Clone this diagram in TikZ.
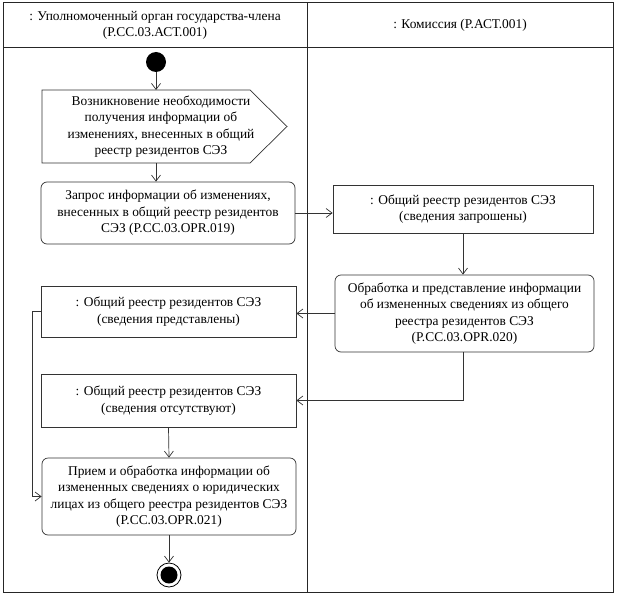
\documentclass[tikz,border=0pt]{standalone}
\usepackage{fontspec}
\setmainfont{Liberation Serif}
\usetikzlibrary{arrows.meta}
\tikzset{
  txt/.style={align=center,font=\fontsize{13.4}{16.5}\selectfont,inner sep=0pt},
  actbox/.style={txt,draw=black!80,line width=0.7pt,rounded corners=6pt},
  objbox/.style={txt,draw=black!80,line width=0.7pt},
  flow/.style={draw=black!80,line width=0.7pt,-{Straight Barb[length=6pt,width=9pt]}},
  startdot/.style={circle,fill=black,minimum size=20pt,inner sep=0pt},
  enddot/.style={circle,draw=black,line width=0.8pt,minimum size=24pt,inner sep=0pt,
    path picture={\fill[black] (path picture bounding box.center) circle (8.5pt);}}
}
\begin{document}
\begin{tikzpicture}[x=1pt,y=-1pt]
\useasboundingbox (0,0) rectangle (617,596);
% swimlanes
\begin{scope}[line width=1pt,black!85]
    \draw (3,3) rectangle (613,592);
    \draw (3,48) -- (613,48);
    \draw (307,3) -- (307,592);
\end{scope}
    \node[txt] (laneA) at (155,25.5) {: Уполномоченный орган государства-члена\\(Р.СС.03.АСТ.001)};
    \node[txt] (laneB) at (460,25.5) {: Комиссия (Р.АСТ.001)};
% left lane
    \node[startdot] (start) at (156,62) {};
    \draw[objbox] (42,90) -- (250,90) -- (287,126.5) -- (250,163) -- (42,163) -- cycle;
    \node[txt] (need) at (161,126.5) {Возникновение необходимости\\получения информации об\\изменениях, внесенных в общий\\реестр резидентов СЭЗ};
    \coordinate (needtop) at (156,90);
    \coordinate (needbot) at (156,163);
    \node[actbox,minimum width=254pt,minimum height=62pt] (req) at (168,213)
        {Запрос информации об изменениях,\\внесенных в общий реестр резидентов\\СЭЗ (Р.СС.03.OPR.019)};
    \node[objbox,minimum width=255pt,minimum height=51pt] (given) at (168.5,311.5)
        {: Общий реестр резидентов СЭЗ\\(сведения представлены)};
    \node[objbox,minimum width=255pt,minimum height=53pt] (none) at (168.5,400.5)
        {: Общий реестр резидентов СЭЗ\\(сведения отсутствуют)};
    \node[actbox,minimum width=254pt,minimum height=77pt] (recv) at (169,496.5)
        {Прием и обработка информации об\\измененных сведениях о юридических\\лицах из общего реестра резидентов СЭЗ\\(Р.СС.03.OPR.021)};
    \node[enddot] (stop) at (169,575) {};
% right lane
    \node[objbox,minimum width=260pt,minimum height=48pt] (asked) at (463,209)
        {: Общий реестр резидентов СЭЗ\\(сведения запрошены)};
    \node[actbox,minimum width=259pt,minimum height=77pt] (proc) at (464.5,313.5)
        {Обработка и представление информации\\об измененных сведениях из общего\\реестра резидентов СЭЗ\\(Р.СС.03.OPR.020)};
    \coordinate (bend) at (32,311.5);
% connectors
    \draw[flow] (start) -- (needtop);
    \draw[flow] (needbot) -- (needbot |- req.north);
    \draw[flow] (req.east) -- (req.east -| asked.west);
    \draw[flow] (asked) -- (asked |- proc.north);
    \draw[flow] (proc.west) -- (proc.west -| given.east);
    \draw[flow] (proc.south -| asked) |- (none.east);
    \draw[flow] (given.west) -- (bend) |- (recv.west);
    \draw[flow] (none.south) -- (recv.north);
    \draw[flow] (recv.south) -- (stop.north);
\end{tikzpicture}
\end{document}
